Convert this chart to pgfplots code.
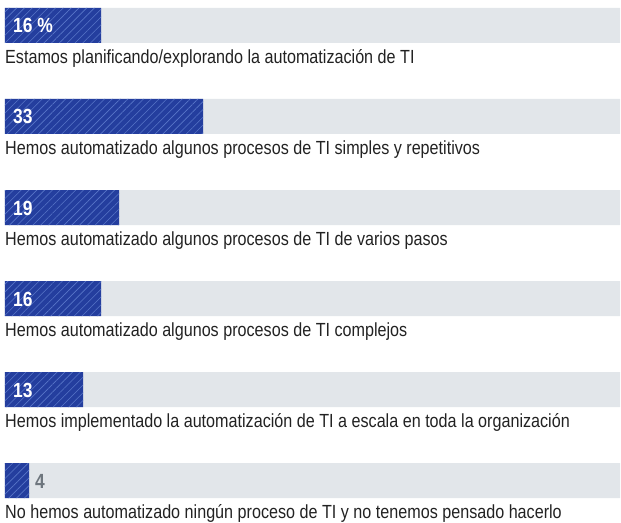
\documentclass[border=0pt]{standalone}
\usepackage{fontspec}
\setmainfont{Liberation Sans}[FakeStretch=0.85]
\usepackage{pgfplots}
\pgfplotsset{compat=1.18}
\usetikzlibrary{patterns.meta}

\definecolor{barblue}{RGB}{36,62,158}
\definecolor{hatch}{RGB}{88,118,200}
\definecolor{bggray}{RGB}{226,230,234}
\definecolor{txt}{RGB}{34,34,34}
\definecolor{lblgray}{RGB}{110,118,126}

\begin{document}
\begin{tikzpicture}
\begin{axis}[
    scale only axis,
    width=621pt, height=521pt,
    xmin=-0.8333, xmax=102.6667,
    ymin=-0.2802, ymax=5.4451,
    y dir=reverse,
    bar width=35pt,
    axis line style={draw=none},
    tick style={draw=none},
    xtick=\empty,
    ytick={0,...,5},
    yticklabels={
        Estamos planificando/explorando la automatización de TI,
        Hemos automatizado algunos procesos de TI simples y repetitivos,
        Hemos automatizado algunos procesos de TI de varios pasos,
        Hemos automatizado algunos procesos de TI complejos,
        Hemos implementado la automatización de TI a escala en toda la organización,
        No hemos automatizado ningún proceso de TI y no tenemos pensado hacerlo},
    yticklabel style={anchor=base west, inner sep=0pt, xshift=5pt, yshift=-38pt,
        font=\fontsize{19}{21}\selectfont, text=txt},
    clip=false,
]
% full-width background rows
\addplot[xbar, bar shift=0pt, fill=bggray, draw=none]
    coordinates {(102.5,0) (102.5,1) (102.5,2) (102.5,3) (102.5,4) (102.5,5)};
% share of respondents (%)
\addplot[xbar, bar shift=0pt, fill=barblue, draw=none,
    postaction={pattern={Lines[angle=45,distance=5.5pt,line width=0.6pt]}, pattern color=hatch}]
    coordinates {(16,0) (33,1) (19,2) (16,3) (13,4) (4,5)};
% value labels inside the bars
\addplot[draw=none, nodes near coords, point meta=explicit symbolic,
    nodes near coords align=horizontal,
    every node near coord/.append style={anchor=base west, xshift=8pt, yshift=-7.5pt,
        inner sep=0pt, text=white, font=\fontsize{20.5}{22}\selectfont\bfseries}]
    coordinates {(0,0) [16 \%] (0,1) [33] (0,2) [19] (0,3) [16] (0,4) [13]};
% value label beside the short bar
\addplot[draw=none, nodes near coords, point meta=explicit symbolic,
    nodes near coords align=horizontal,
    every node near coord/.append style={anchor=base west, xshift=6pt, yshift=-7.5pt,
        inner sep=0pt, text=lblgray, font=\fontsize{20.5}{22}\selectfont\bfseries}]
    coordinates {(4,5) [4]};
\end{axis}
\end{tikzpicture}
\end{document}
